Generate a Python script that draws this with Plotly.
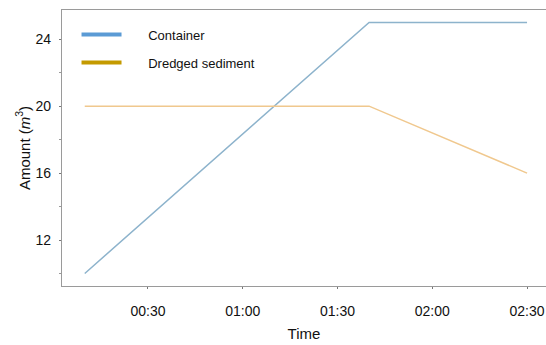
import plotly.graph_objects as go

times = ["2000-01-01 00:10", "2000-01-01 01:40", "2000-01-01 02:30"]
container = [10, 25, 25]
sediment = [20, 20, 16]
ytick_vals = [12, 16, 20, 24]

fig = go.Figure()
fig.add_trace(go.Scatter(x=times, y=container, mode="lines",
                         line=dict(color="#8db3cc", width=1.5), showlegend=False))
fig.add_trace(go.Scatter(x=times, y=sediment, mode="lines",
                         line=dict(color="#f0c88e", width=1.5), showlegend=False))
fig.add_trace(go.Scatter(x=[None], y=[None], mode="lines", name="      Container",
                         legendgroup="a", line=dict(color="#5b9bd5", width=4)))
fig.add_trace(go.Scatter(x=[None], y=[None], mode="lines", name="      Dredged sediment",
                         legendgroup="b", line=dict(color="#c49a00", width=4)))

fig.update_layout(
    width=546, height=345,
    margin=dict(l=62, r=0, t=10, b=59),
    paper_bgcolor="white", plot_bgcolor="white",
    font=dict(family="Liberation Sans, Arial, sans-serif", size=14, color="#111"),
    legend=dict(x=0.03, y=0.965, xanchor="left", yanchor="top",
                bgcolor="rgba(0,0,0,0)", font=dict(size=13), tracegroupgap=8,
                itemwidth=40),
    xaxis=dict(
        type="date", range=["2000-01-01 00:02:48", "2000-01-01 02:36"],
        tick0="2000-01-01 00:00", dtick=1800000, tickformat="%H:%M",
        showgrid=False, zeroline=False, showline=True, linecolor="#9a9a9a",
        linewidth=1.2, mirror=True, ticks="outside", ticklen=2, tickcolor="#777",
        automargin=False, ticklabelstandoff=10,
        title=dict(text="Time", font=dict(size=15), standoff=10),
    ),
    yaxis=dict(
        range=[9.25, 25.75], tickvals=ytick_vals,
        showgrid=False, zeroline=False, showline=True, linecolor="#9a9a9a",
        linewidth=1.2, ticks="outside", ticklen=2, tickcolor="#777",
        automargin=False, ticklabelstandoff=5,
        minor=dict(tickvals=[10, 14, 18, 22], ticks="outside", ticklen=2, tickcolor="#999"),
        title=dict(text="Amount (<i>m</i><sup>3</sup>)", font=dict(size=15), standoff=1),
    ),
)
fig.write_html("out.html", config={"displayModeBar": False},
               post_script="document.body.style.margin='0';document.body.style.overflow='hidden';")
